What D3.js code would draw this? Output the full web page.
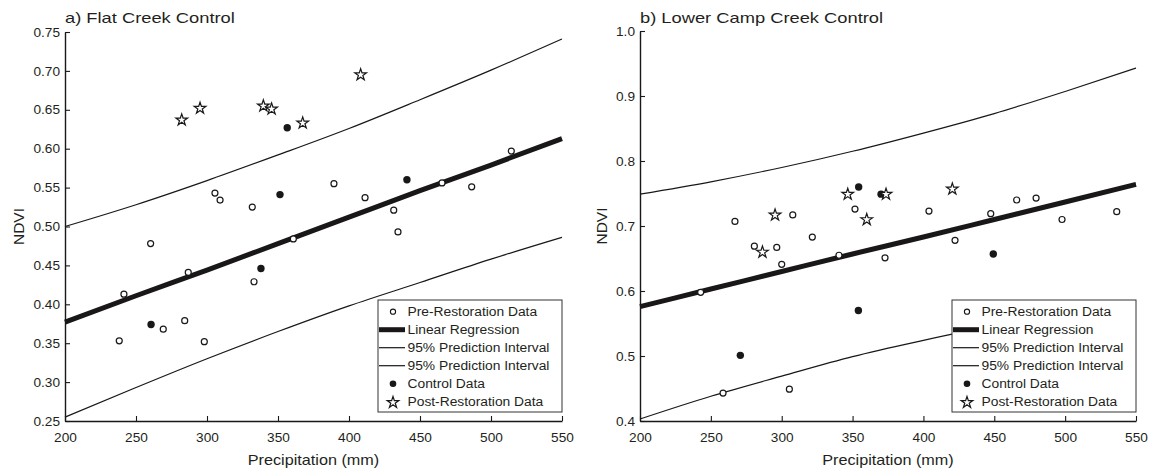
<!DOCTYPE html>
<html>
<head>
<meta charset="utf-8">
<script src="https://cdn.jsdelivr.net/npm/d3@7"></script>
<style>
  body { margin: 0; background: #fff; }
  text { font-family: "Liberation Sans", Arial, sans-serif; fill: #231f20; }
</style>
</head>
<body>
<div id="chart"></div>
<script>
// axis ticks
const precipTicks = [200, 250, 300, 350, 400, 450, 500, 550];
const flatTicks = [0.25, 0.30, 0.35, 0.40, 0.45, 0.50, 0.55, 0.60, 0.65, 0.70, 0.75];
const lowerTicks = [0.4, 0.5, 0.6, 0.7, 0.8, 0.9, 1.0];

// regression line + prediction interval at these precip values
const curveX = [200, 250, 300, 350, 400, 450, 500, 550];

const flatFit = [0.377, 0.411, 0.444, 0.478, 0.512, 0.546, 0.579, 0.613];
const flatUpper = [0.500, 0.528, 0.559, 0.592, 0.626, 0.663, 0.701, 0.741];
const flatLower = [0.255, 0.293, 0.330, 0.365, 0.398, 0.428, 0.458, 0.486];

const lowerFit = [0.576, 0.603, 0.630, 0.657, 0.683, 0.710, 0.737, 0.764];
const lowerUpper = [0.749, 0.768, 0.790, 0.815, 0.843, 0.873, 0.907, 0.943];
const lowerLower = [0.403, 0.438, 0.469, 0.499, 0.524, 0.547, 0.567, 0.585];

// [precipitation mm, NDVI]
const flatPre = [
  [238.2, 0.353], [241.5, 0.413], [260.3, 0.478], [269.2, 0.368], [284.3, 0.379],
  [286.8, 0.441], [298.1, 0.352], [305.6, 0.543], [309.2, 0.534], [331.9, 0.525],
  [333.1, 0.429], [360.8, 0.484], [389.4, 0.555], [411.3, 0.537], [431.5, 0.521],
  [434.5, 0.493], [465.5, 0.556], [486.4, 0.551], [514.3, 0.597]
];
const flatControl = [[260.6, 0.374], [338.0, 0.446], [351.4, 0.541], [356.5, 0.627], [440.8, 0.560]];
const flatPost = [[282.2, 0.638], [295.1, 0.653], [339.7, 0.656], [345.5, 0.652], [367.4, 0.634], [408.2, 0.696]];

const lowerPre = [
  [242.8, 0.598], [258.6, 0.443], [267.0, 0.707], [280.7, 0.669], [296.5, 0.667],
  [300.0, 0.641], [305.4, 0.449], [307.8, 0.717], [321.6, 0.683], [340.4, 0.655],
  [351.7, 0.726], [372.9, 0.651], [403.9, 0.723], [422.3, 0.678], [447.5, 0.719],
  [465.8, 0.740], [479.5, 0.743], [497.8, 0.710], [536.4, 0.722]
];
const lowerControl = [[270.8, 0.501], [354.1, 0.570], [354.3, 0.760], [370.1, 0.749], [449.3, 0.657]];
const lowerPost = [[286.4, 0.661], [295.3, 0.718], [346.6, 0.750], [360.0, 0.711], [373.6, 0.750], [420.4, 0.758]];

const legendLabels = [
  "Pre-Restoration Data", "Linear Regression", "95% Prediction Interval",
  "95% Prediction Interval", "Control Data", "Post-Restoration Data"
];
const legendKinds = ["open", "thick", "thin", "thin", "filled", "star"];

const panels = [
  { title: "a) Flat Creek Control", x0: 65, x1: 562, y0: 32, y1: 421, yDomain: [0.25, 0.75],
    yTicks: flatTicks, yFmt: ".2f", yLabelX: 23.5,
    fit: flatFit, upper: flatUpper, lower: flatLower,
    pre: flatPre, control: flatControl, post: flatPost },
  { title: "b) Lower Camp Creek Control", x0: 640, x1: 1136, y0: 31, y1: 421, yDomain: [0.4, 1.0],
    yTicks: lowerTicks, yFmt: ".1f", yLabelX: 607,
    fit: lowerFit, upper: lowerUpper, lower: lowerLower,
    pre: lowerPre, control: lowerControl, post: lowerPost }
];

const ink = "#1a1718";

function stretch(sel, f) {
  sel.each(function () {
    let w = this.getComputedTextLength();
    d3.select(this).attr("textLength", w * f).attr("lengthAdjust", "spacingAndGlyphs");
  });
}

let svg = d3.select("#chart").append("svg").attr("width", 1149).attr("height", 471);

let star = d3.symbol().type(d3.symbolStar).size(42);

function drawPanel(p) {
  let x = d3.scaleLinear().domain([200, 550]).range([p.x0, p.x1]);
  let y = d3.scaleLinear().domain(p.yDomain).range([p.y1, p.y0]);
  let g = svg.append("g");

  // axes
  let xAxis = g.append("g")
    .attr("transform", "translate(0," + p.y1 + ")")
    .call(d3.axisBottom(x).tickValues(precipTicks).tickSizeInner(-5).tickSizeOuter(0).tickPadding(12));
  let yAxis = g.append("g")
    .attr("transform", "translate(" + p.x0 + ",0)")
    .call(d3.axisLeft(y).tickValues(p.yTicks).tickFormat(d3.format(p.yFmt)).tickSizeInner(-5).tickSizeOuter(0).tickPadding(5));

  [xAxis, yAxis].forEach(a => {
    a.select(".domain").attr("stroke", ink).attr("stroke-width", 1.4);
    a.selectAll(".tick line").attr("stroke", ink).attr("stroke-width", 1.1);
    a.selectAll("text").attr("font-size", "13px").attr("fill", "#231f20")
      .style("font-family", "'Liberation Sans', Arial, sans-serif");
    stretch(a.selectAll("text"), 1.05);
  });

  // title + labels
  let t = g.append("text").attr("x", p.x0).attr("y", 23).attr("font-size", "15px").text(p.title);
  stretch(t, 1.22);

  let xl = g.append("text")
    .attr("x", (p.x0 + p.x1) / 2).attr("y", 465)
    .attr("text-anchor", "middle").attr("font-size", "15px")
    .text("Precipitation (mm)");
  stretch(xl, 1.08);

  g.append("text")
    .attr("transform", "translate(" + p.yLabelX + "," + (p.y0 + p.y1) / 2 + ") rotate(-90)")
    .attr("text-anchor", "middle").attr("font-size", "15.5px")
    .text("NDVI");

  // prediction interval + regression
  let line = vals => d3.line().curve(d3.curveMonotoneX)
    .x((d, i) => x(curveX[i])).y(d => y(d))(vals);

  [p.upper, p.lower].forEach(v => {
    g.append("path").attr("d", line(v)).attr("fill", "none").attr("stroke", ink).attr("stroke-width", 1.2);
  });
  g.append("path").attr("d", line(p.fit)).attr("fill", "none").attr("stroke", ink).attr("stroke-width", 5);

  // points
  g.selectAll(".pre").data(p.pre).join("circle").attr("class", "pre")
    .attr("cx", d => x(d[0])).attr("cy", d => y(d[1])).attr("r", 3)
    .attr("fill", "#fff").attr("stroke", ink).attr("stroke-width", 1.2);

  g.selectAll(".ctrl").data(p.control).join("circle").attr("class", "ctrl")
    .attr("cx", d => x(d[0])).attr("cy", d => y(d[1])).attr("r", 3.7)
    .attr("fill", ink);

  g.selectAll(".post").data(p.post).join("path").attr("class", "post")
    .attr("d", star)
    .attr("transform", d => "translate(" + x(d[0]) + "," + (y(d[1]) + 0.8) + ")")
    .attr("fill", "#fff").attr("stroke", ink).attr("stroke-width", 1.2);

  // legend
  let lw = 184, lh = 112;
  let lg = g.append("g").attr("transform", "translate(" + (p.x1 - lw) + "," + (p.y1 - 9 - lh) + ")");
  lg.append("rect").attr("width", lw).attr("height", lh)
    .attr("fill", "#fff").attr("stroke", "#333").attr("stroke-width", 1);

  let rows = lg.selectAll(".row").data(legendLabels).join("g").attr("class", "row")
    .attr("transform", (d, i) => "translate(0," + (11.7 + i * 18) + ")");

  rows.each(function (d, i) {
    let r = d3.select(this);
    let kind = legendKinds[i];
    if (kind == "open") {
      r.append("circle").attr("cx", 15).attr("r", 2.6).attr("fill", "#fff").attr("stroke", ink).attr("stroke-width", 1.1);
    } else if (kind == "filled") {
      r.append("circle").attr("cx", 15).attr("r", 3.3).attr("fill", ink);
    } else if (kind == "star") {
      r.append("path").attr("d", star).attr("transform", "translate(15,0.8)")
        .attr("fill", "#fff").attr("stroke", ink).attr("stroke-width", 1.2);
    } else {
      r.append("line").attr("x1", 1).attr("x2", 27)
        .attr("stroke", ink).attr("stroke-width", kind == "thick" ? 5 : 1.2);
    }
    let tx = r.append("text").attr("x", 29.5).attr("dy", "0.36em").attr("font-size", "12px").text(d);
    stretch(tx, 1.15);
  });
}

panels.forEach(drawPanel);
</script>
</body>
</html>
